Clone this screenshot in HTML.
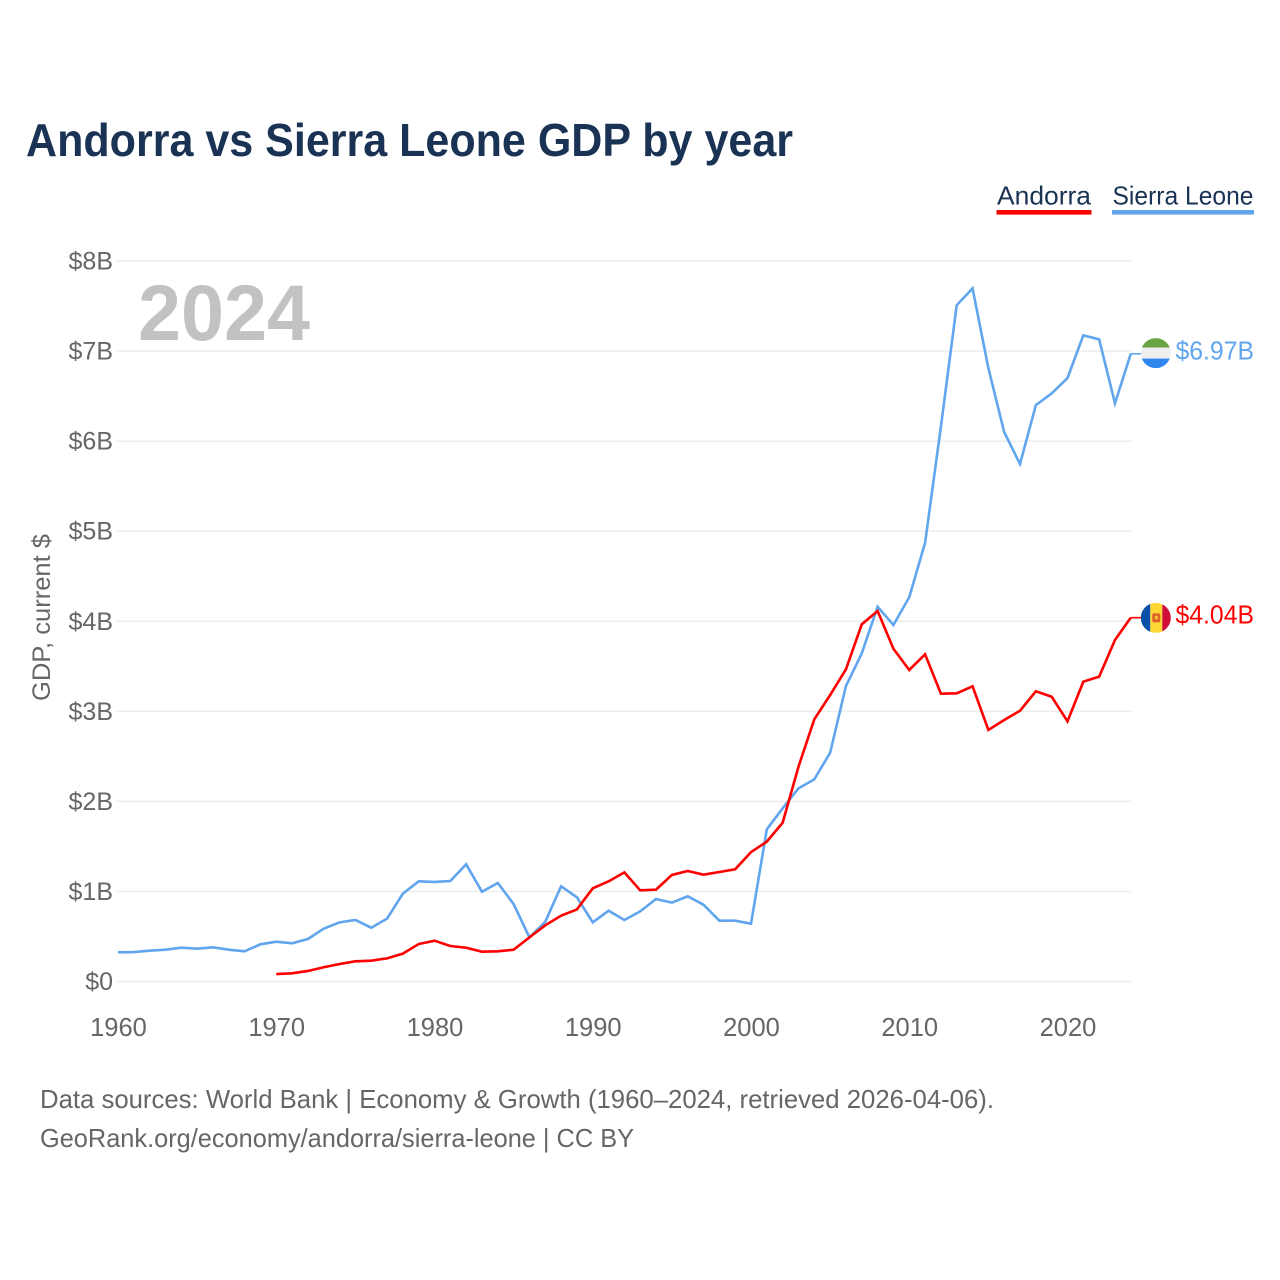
<!DOCTYPE html>
<html lang="en">
<head>
<meta charset="utf-8">
<title>Andorra vs Sierra Leone GDP by year</title>
<style>
html,body{margin:0;padding:0;background:#fff;}
svg{display:block;}
text{font-family:"Liberation Sans",Arial,sans-serif;}
</style>
</head>
<body>
<svg id="chart" xmlns="http://www.w3.org/2000/svg" width="1280" height="1280" viewBox="0 0 1280 1280">
  <defs>
    <clipPath id="flag-clip-sl"><circle id="clip-sl" cx="1155.8" cy="353" r="15"></circle></clipPath>
    <clipPath id="flag-clip-ad"><circle id="clip-ad" cx="1155.8" cy="617" r="15"></circle></clipPath>
  </defs>
  <rect x="0" y="0" width="1280" height="1280" fill="#ffffff"></rect>
  <text x="26" y="156" font-size="46" font-weight="700" fill="#1a3354" textLength="767" lengthAdjust="spacingAndGlyphs">Andorra vs Sierra Leone GDP by year</text>

  <g>
    <text x="997" y="204.5" font-size="26" fill="#1a3354" textLength="94" lengthAdjust="spacingAndGlyphs">Andorra</text>
    <rect x="996.5" y="210" width="95" height="4.6" fill="#ff0000"></rect>
  </g>
  <g>
    <text x="1112.5" y="204.5" font-size="26" fill="#1a3354" textLength="141" lengthAdjust="spacingAndGlyphs">Sierra Leone</text>
    <rect x="1112" y="210" width="142" height="4.6" fill="#60a5ee"></rect>
  </g>

  <g id="grid"></g>
  <text x="138" y="340" font-size="79" font-weight="700" fill="#c2c2c2" textLength="172" lengthAdjust="spacingAndGlyphs">2024</text>
  <g id="yticks"></g>
  <g id="xticks"></g>
  <text transform="translate(50 701) rotate(-90)" x="0" y="0" font-size="25" fill="#666666" textLength="167" lengthAdjust="spacingAndGlyphs">GDP, current $</text>
  <g id="series"></g>

  <g id="flag-sl" clip-path="url(#flag-clip-sl)"></g>
  <g id="flag-ad" clip-path="url(#flag-clip-ad)"></g>

  <text x="40" y="1108" font-size="26" fill="#666666" textLength="954" lengthAdjust="spacingAndGlyphs">Data sources: World Bank | Economy &amp; Growth (1960–2024, retrieved 2026-04-06).</text>
  <text x="40" y="1147" font-size="26" fill="#666666" textLength="594" lengthAdjust="spacingAndGlyphs">GeoRank.org/economy/andorra/sierra-leone | CC BY</text>
</svg>
<script>
var firstYear = 1960;
var yTickValues = [0, 1, 2, 3, 4, 5, 6, 7, 8];
var yTickLabels = ["$0", "$1B", "$2B", "$3B", "$4B", "$5B", "$6B", "$7B", "$8B"];
var xTickValues = [1960, 1970, 1980, 1990, 2000, 2010, 2020];
var xTickLabels = ["1960", "1970", "1980", "1990", "2000", "2010", "2020"];
var sierraLeone = [
  0.324, 0.327, 0.342, 0.353, 0.375, 0.364, 0.380, 0.353, 0.335, 0.413,
  0.442, 0.424, 0.472, 0.586, 0.657, 0.683, 0.597, 0.698, 0.975, 1.112,
  1.105, 1.116, 1.301, 0.997, 1.094, 0.860, 0.490, 0.664, 1.057, 0.935,
  0.657, 0.786, 0.683, 0.779, 0.916, 0.875, 0.946, 0.853, 0.675, 0.675,
  0.642, 1.690, 1.923, 2.145, 2.245, 2.540, 3.281, 3.644, 4.162, 3.958,
  4.266, 4.870, 6.160, 7.510, 7.697, 6.810, 6.100, 5.746, 6.400, 6.530,
  6.700, 7.175, 7.130, 6.420, 6.970
];
var andorra = [
  null, null, null, null, null, null, null, null, null, null,
  0.083, 0.091, 0.117, 0.158, 0.194, 0.224, 0.231, 0.257, 0.309, 0.416,
  0.453, 0.394, 0.375, 0.331, 0.335, 0.353, 0.490, 0.624, 0.731, 0.800,
  1.035, 1.112, 1.212, 1.012, 1.020, 1.183, 1.227, 1.186, 1.216, 1.246,
  1.437, 1.553, 1.763, 2.385, 2.911, 3.181, 3.467, 3.966, 4.114, 3.695,
  3.459, 3.633, 3.196, 3.200, 3.278, 2.793, 2.904, 3.007, 3.222, 3.162,
  2.889, 3.329, 3.385, 3.792, 4.040
];

var SVG_NS = "http://www.w3.org/2000/svg";
function xScale(year) { return 118 + (year - 1960) * (1130.8 - 118) / 64; }
function yScale(value) { return 981.5 - value * 90.06; }
function make(tag, attrs, parent, content) {
  var el = document.createElementNS(SVG_NS, tag);
  for (var k in attrs) { el.setAttribute(k, attrs[k]); }
  if (content !== undefined) { el.textContent = content; }
  parent.appendChild(el);
  return el;
}
function linePath(values) {
  var d = "", started = false;
  for (var i = 0; i < values.length; i++) {
    if (values[i] === null) { continue; }
    d += (started ? "L" : "M") + xScale(firstYear + i).toFixed(2) + " " + yScale(values[i]).toFixed(2);
    started = true;
  }
  return d;
}
function money(v) { return "$" + v.toFixed(2) + "B"; }

var gridG = document.getElementById("grid");
var yG = document.getElementById("yticks");
var xG = document.getElementById("xticks");
var seriesG = document.getElementById("series");
var root = document.getElementById("chart");

yTickValues.forEach(function (v, i) {
  var ln = make("line", {x1: 116.5, x2: 1131, y1: yScale(v), y2: yScale(v), stroke: "#ececec", "stroke-width": 1.4}, gridG);
  
  
  var t = make("text", {x: 113, y: yScale(v) + 8.5, "text-anchor": "end", "font-size": 25, fill: "#666666"}, yG, yTickLabels[i]);
  
  
});

xTickValues.forEach(function (v, i) {
  var t = make("text", {x: xScale(v) + 0.5, y: 1036, "text-anchor": "middle", "font-size": 25.5, fill: "#666666"}, xG, xTickLabels[i]);
  
  
});

var lineSL = make("path", {d: linePath(sierraLeone), fill: "none", stroke: "#60a5ee", "stroke-width": 2.6, "stroke-linejoin": "miter"}, seriesG);


var lineAD = make("path", {d: linePath(andorra), fill: "none", stroke: "#ff0000", "stroke-width": 2.6, "stroke-linejoin": "miter"}, seriesG);



var lastSL = sierraLeone[sierraLeone.length - 1];
var lastAD = andorra[andorra.length - 1];
var xEnd = xScale(firstYear + sierraLeone.length - 1);
var ySL = yScale(lastSL);
var yAD = yScale(lastAD);

var connSL = make("line", {x1: xEnd, x2: 1142, y1: ySL, y2: ySL, stroke: "#60a5ee", "stroke-width": 1.6}, seriesG);


var connAD = make("line", {x1: xEnd, x2: 1142, y1: yAD, y2: yAD, stroke: "#ff0000", "stroke-width": 1.6}, seriesG);



document.getElementById("clip-sl").setAttribute("cy", ySL - 0.7);
document.getElementById("clip-ad").setAttribute("cy", yAD + 0.2);

var flagSL = document.getElementById("flag-sl");
var slTop = ySL - 0.7 - 15;
make("rect", {x: 1140.8, y: slTop, width: 30, height: 9.5, fill: "#6aa343"}, flagSL);
make("rect", {x: 1140.8, y: slTop + 9.5, width: 30, height: 11, fill: "#eeeeee"}, flagSL);
make("rect", {x: 1140.8, y: slTop + 20.5, width: 30, height: 10, fill: "#2f87ee"}, flagSL);

var flagAD = document.getElementById("flag-ad");
var adTop = yAD + 0.2 - 15;
make("rect", {x: 1140.8, y: adTop, width: 9.5, height: 30, fill: "#0b50a8"}, flagAD);
make("rect", {x: 1150.3, y: adTop, width: 12, height: 30, fill: "#fdd835"}, flagAD);
make("rect", {x: 1162.3, y: adTop, width: 9, height: 30, fill: "#d0103a"}, flagAD);
make("rect", {x: 1152.3, y: adTop + 10.5, width: 8, height: 9, rx: 1.5, fill: "#e0622a"}, flagAD);
make("rect", {x: 1154.8, y: adTop + 13, width: 3, height: 3.5, fill: "#f4c430"}, flagAD);

var labelSL = make("text", {x: 1175.5, y: ySL + 5.5, "font-size": 25.5, fill: "#60a5ee", textLength: 78.5, lengthAdjust: "spacingAndGlyphs"}, root, money(lastSL));


var labelAD = make("text", {x: 1175.5, y: yAD + 6, "font-size": 25.5, fill: "#ff0000", textLength: 78.5, lengthAdjust: "spacingAndGlyphs"}, root, money(lastAD));


</script>
</body>
</html>
